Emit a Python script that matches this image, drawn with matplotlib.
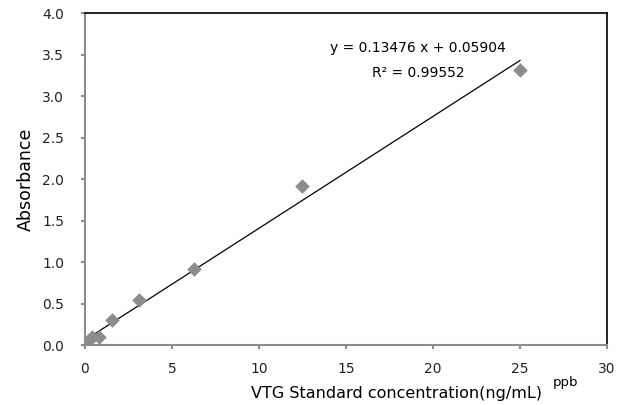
import matplotlib.pyplot as plt

plt.rcParams['font.family'] = ['DejaVu Sans']

conc = [0, 0.195, 0.39, 0.78, 1.5625, 3.125, 6.25, 12.5, 25]
absorb = [0.02, 0.05, 0.10, 0.10, 0.30, 0.54, 0.91, 1.91, 3.31]
slope = 0.13476
intercept = 0.05904

fig = plt.figure(figsize=(6.23, 4.05), dpi=100)
ax = fig.add_axes([0.1364, 0.1481, 0.8379, 0.8198])

ax.scatter(conc, absorb, marker='D', s=55, color='#8c8c8c', zorder=3, linewidths=0)
fit_x = [0, 25]
fit_y = [slope * v + intercept for v in fit_x]
ax.plot(fit_x, fit_y, color='black', lw=0.9, zorder=2)

ax.set_xlim(0, 30)
ax.set_ylim(0, 4.0)
ax.set_xticks([0, 5, 10, 15, 20, 25, 30])
ax.set_yticks([0.0, 0.5, 1.0, 1.5, 2.0, 2.5, 3.0, 3.5, 4.0])
ax.set_yticklabels([f"{v:.1f}" for v in ax.get_yticks()])

for s in ['left', 'bottom']:
    ax.spines[s].set_color('#8c8c8c')
    ax.spines[s].set_linewidth(1.5)
for s in ['top', 'right']:
    ax.spines[s].set_color('black')
    ax.spines[s].set_linewidth(1.2)
ax.tick_params(axis='both', direction='out', length=3, width=1.5, color='#8c8c8c',
               labelsize=10, labelcolor='#222222')
ax.tick_params(axis='y', pad=12)
ax.tick_params(axis='x', pad=9)

ax.set_ylabel('Absorbance', fontsize=12.5, labelpad=5)
fig.text(0.636, 0.029, 'VTG Standard concentration(ng/mL)', fontsize=11.5,
         ha='center', va='center')
fig.text(0.888, 0.055, 'ppb', fontsize=9.5, va='center')

ax.text(19.15, 3.58, 'y = 0.13476 x + 0.05904', fontsize=10, ha='center', va='center')
ax.text(19.15, 3.28, 'R² = 0.99552', fontsize=10, ha='center', va='center')

fig.savefig('out.png')
